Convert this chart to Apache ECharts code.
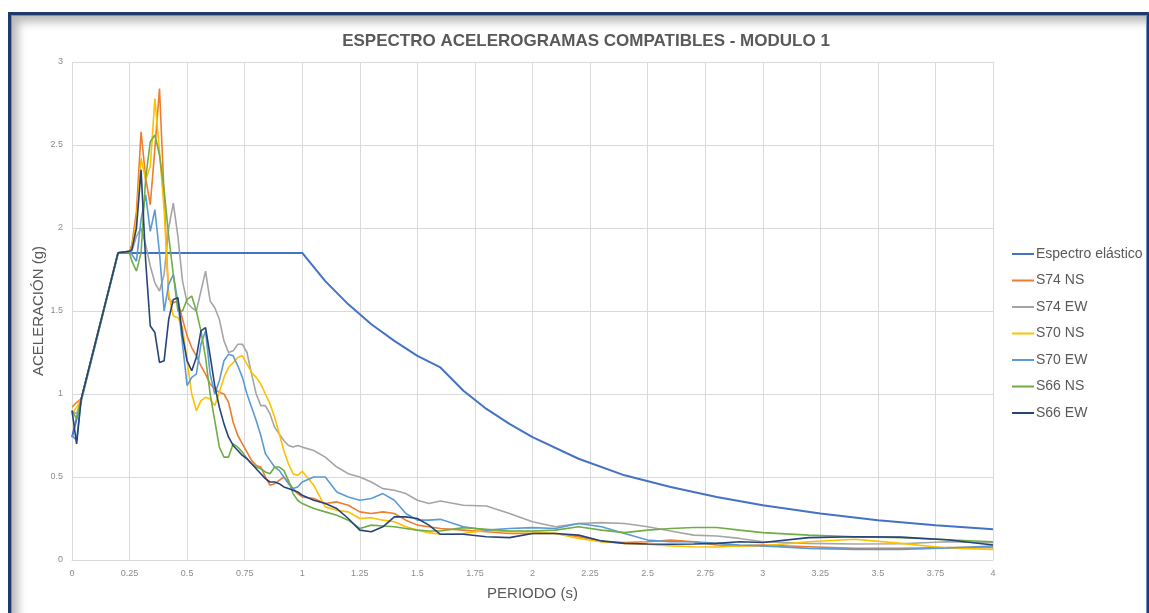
<!DOCTYPE html>
<html>
<head>
<meta charset="utf-8">
<script src="https://cdn.jsdelivr.net/npm/echarts@6/dist/echarts.min.js"></script>
<style>
  html, body { margin: 0; padding: 0; background: #fff; overflow: hidden; }
  #chart { position: absolute; left: 0; top: 0; width: 1149px; height: 613px; }
  #frame {
    position: absolute; left: 8px; top: 12px; width: 1136px; height: 640px;
    border: 3px solid #1f3a6e;
    box-shadow: inset 0 0 0 1px #6f8fc8, inset 7px 7px 10px rgba(0, 0, 0, 0.28);
    pointer-events: none;
  }
</style>
</head>
<body>
<div id="chart"></div>
<div id="frame"></div>
<script>
// periodos comunes de los registros (s)
const periods = [0, 0.02, 0.04, 0.1, 0.2, 0.25, 0.26, 0.28, 0.3, 0.32, 0.34, 0.36, 0.38, 0.4, 0.42, 0.44, 0.46, 0.48,
  0.5, 0.52, 0.54, 0.56, 0.58, 0.6, 0.62, 0.64, 0.66, 0.68, 0.7, 0.72, 0.74, 0.76, 0.78, 0.8, 0.82, 0.84, 0.86, 0.88,
  0.9, 0.92, 0.94, 0.96, 0.98, 1.0, 1.05, 1.1, 1.15, 1.2, 1.25, 1.3, 1.35, 1.4, 1.45, 1.5, 1.55, 1.6, 1.7, 1.8, 1.9,
  2.0, 2.1, 2.2, 2.3, 2.4, 2.5, 2.6, 2.7, 2.8, 2.9, 3.0, 3.2, 3.4, 3.6, 3.8, 4.0]

// espectro elastico
const elasticT = [0, 0.2, 1.0, 1.1, 1.2, 1.3, 1.4, 1.5, 1.6, 1.7, 1.8, 1.9, 2.0, 2.2, 2.4, 2.6, 2.8, 3.0, 3.25, 3.5, 3.75, 4.0]
const elasticSa = [0.74, 1.85, 1.85, 1.68, 1.54, 1.42, 1.32, 1.23, 1.16, 1.02, 0.91, 0.82, 0.74, 0.61, 0.51, 0.44, 0.38, 0.33, 0.28, 0.24, 0.21, 0.185]

const s74ns = [0.92, 0.95, 0.97, 1.3, 1.85, 1.86, 1.9, 2.1, 2.58, 2.3, 2.14, 2.48, 2.84, 2.2, 1.57, 1.55, 1.56, 1.45,
  1.35, 1.28, 1.23, 1.17, 1.12, 1.06, 1.03, 1.01, 1.0, 0.95, 0.83, 0.75, 0.7, 0.65, 0.6, 0.57, 0.56, 0.5, 0.45, 0.46,
  0.48, 0.5, 0.47, 0.43, 0.4, 0.38, 0.37, 0.34, 0.35, 0.33, 0.29, 0.28, 0.29, 0.28, 0.24, 0.21, 0.2, 0.19, 0.18, 0.17, 0.16,
  0.16, 0.16, 0.14, 0.11, 0.105, 0.11, 0.12, 0.11, 0.09, 0.085, 0.09, 0.08, 0.07, 0.07, 0.075, 0.075]

const s74ew = [0.9, 0.88, 0.97, 1.3, 1.85, 1.86, 1.86, 1.95, 2.0, 1.9, 1.77, 1.67, 1.62, 1.72, 2.0, 2.15, 1.95, 1.68,
  1.55, 1.52, 1.5, 1.62, 1.74, 1.56, 1.52, 1.45, 1.32, 1.25, 1.26, 1.3, 1.3, 1.25, 1.12, 1.0, 0.93, 0.93, 0.88, 0.8,
  0.76, 0.72, 0.69, 0.68, 0.69, 0.68, 0.66, 0.62, 0.56, 0.52, 0.5, 0.47, 0.43, 0.42, 0.4, 0.36, 0.34, 0.355, 0.33, 0.325, 0.28,
  0.23, 0.2, 0.22, 0.225, 0.22, 0.2, 0.175, 0.15, 0.145, 0.13, 0.11, 0.1, 0.096, 0.098, 0.11, 0.104]

const s70ns = [0.88, 0.92, 0.97, 1.3, 1.85, 1.86, 1.88, 2.05, 2.42, 2.29, 2.37, 2.78, 2.46, 2.11, 1.6, 1.47, 1.46, 1.4,
  1.2, 1.0, 0.9, 0.96, 0.98, 0.97, 0.93, 1.01, 1.1, 1.16, 1.19, 1.22, 1.23, 1.18, 1.13, 1.1, 1.06, 1.0, 0.94, 0.86,
  0.76, 0.66, 0.58, 0.52, 0.51, 0.535, 0.45, 0.32, 0.3, 0.29, 0.25, 0.255, 0.24, 0.23, 0.2, 0.18, 0.165, 0.155, 0.16, 0.18, 0.17,
  0.17, 0.16, 0.13, 0.11, 0.1, 0.095, 0.085, 0.08, 0.078, 0.084, 0.085, 0.11, 0.125, 0.1, 0.072, 0.064]

const s70ew = [0.75, 0.72, 0.97, 1.3, 1.85, 1.86, 1.84, 1.8, 2.05, 2.2, 1.98, 2.11, 1.85, 1.5, 1.66, 1.72, 1.55, 1.3,
  1.05, 1.1, 1.12, 1.3, 1.38, 1.12, 1.0, 1.08, 1.2, 1.24, 1.23, 1.17, 1.1, 1.0, 0.92, 0.84, 0.75, 0.64, 0.6, 0.56,
  0.54, 0.5, 0.46, 0.43, 0.44, 0.47, 0.5, 0.5, 0.41, 0.38, 0.36, 0.37, 0.4, 0.36, 0.28, 0.24, 0.24, 0.245, 0.2, 0.18, 0.19,
  0.195, 0.19, 0.22, 0.2, 0.16, 0.12, 0.11, 0.11, 0.1, 0.09, 0.085, 0.07, 0.064, 0.064, 0.072, 0.084]

const s66ns = [0.9, 0.85, 0.97, 1.3, 1.85, 1.85, 1.8, 1.74, 1.85, 2.3, 2.52, 2.56, 2.44, 2.23, 1.95, 1.72, 1.5, 1.5,
  1.57, 1.59, 1.5, 1.38, 1.22, 1.0, 0.84, 0.68, 0.62, 0.62, 0.7, 0.68, 0.65, 0.61, 0.58, 0.56, 0.55, 0.53, 0.52, 0.56,
  0.56, 0.54, 0.48, 0.4, 0.36, 0.34, 0.31, 0.29, 0.27, 0.24, 0.19, 0.21, 0.205, 0.2, 0.19, 0.18, 0.175, 0.175, 0.195, 0.185, 0.175,
  0.175, 0.18, 0.2, 0.18, 0.165, 0.18, 0.19, 0.196, 0.196, 0.18, 0.165, 0.15, 0.14, 0.134, 0.122, 0.11]

const s66ew = [0.9, 0.7, 0.97, 1.3, 1.85, 1.86, 1.87, 2.0, 2.35, 1.8, 1.41, 1.37, 1.19, 1.2, 1.45, 1.57, 1.58, 1.35,
  1.2, 1.14, 1.22, 1.38, 1.4, 1.23, 1.05, 0.92, 0.82, 0.74, 0.69, 0.66, 0.63, 0.61, 0.58, 0.55, 0.52, 0.49, 0.47, 0.47,
  0.46, 0.44, 0.43, 0.42, 0.41, 0.39, 0.36, 0.34, 0.31, 0.25, 0.18, 0.17, 0.2, 0.26, 0.26, 0.25, 0.21, 0.155, 0.155, 0.14, 0.135,
  0.16, 0.16, 0.15, 0.115, 0.1, 0.096, 0.095, 0.096, 0.1, 0.11, 0.105, 0.135, 0.14, 0.138, 0.122, 0.09]

const seriesNames = ['Espectro elástico', 'S74 NS', 'S74 EW', 'S70 NS', 'S70 EW', 'S66 NS', 'S66 EW']
const seriesColors = ['#4472C4', '#ED7D31', '#A5A5A5', '#FFC000', '#5B9BD5', '#70AD47', '#264478']

function pairs(xs, ys) {
  return xs.map((x, i) => [x, ys[i]])
}

const records = [s74ns, s74ew, s70ns, s70ew, s66ns, s66ew]
const seriesData = [pairs(elasticT, elasticSa)].concat(records.map(r => pairs(periods, r)))

const chart = echarts.init(document.getElementById('chart'), null, { renderer: 'canvas' })

const option = {
  animation: false,
  textStyle: { fontFamily: 'Liberation Sans, Arial, sans-serif' },
  title: {
    text: 'ESPECTRO ACELEROGRAMAS COMPATIBLES - MODULO 1',
    left: 581,
    textAlign: 'center',
    top: 28,
    textStyle: { fontSize: 17, fontWeight: 'bold', color: '#595959' }
  },
  legend: {
    orient: 'vertical',
    left: 1007,
    top: 241,
    itemWidth: 22,
    itemHeight: 2,
    itemGap: 10.5,
    icon: 'rect',
    data: seriesNames,
    textStyle: { fontSize: 14, color: '#595959', lineHeight: 16, padding: [0, 0, 0, -3] }
  },
  grid: { left: 72, right: 156, top: 62, bottom: 53 },
  xAxis: {
    type: 'value',
    min: 0,
    max: 4,
    interval: 0.25,
    name: 'PERIODO (s)',
    nameLocation: 'middle',
    nameGap: 26,
    nameMoveOverlap: false,
    nameTextStyle: { fontSize: 15, color: '#595959' },
    axisLine: { show: true, lineStyle: { color: '#d9d9d9' } },
    axisTick: { show: false },
    axisLabel: { fontSize: 9, color: '#8c8c8c', margin: 9 },
    splitLine: { show: true, lineStyle: { color: '#d9d9d9' } }
  },
  yAxis: {
    type: 'value',
    min: 0,
    max: 3,
    interval: 0.5,
    name: 'ACELERACIÓN (g)',
    nameLocation: 'middle',
    nameGap: 26,
    nameMoveOverlap: false,
    nameTextStyle: { fontSize: 15, color: '#595959' },
    axisLine: { show: false },
    axisTick: { show: false },
    axisLabel: { fontSize: 9, color: '#8c8c8c', margin: 9 },
    splitLine: { show: true, lineStyle: { color: '#d9d9d9' } }
  },
  series: seriesData.map((d, i) => ({
    name: seriesNames[i],
    type: 'line',
    data: d,
    symbol: 'none',
    smooth: false,
    color: seriesColors[i],
    lineStyle: { width: i === 0 ? 2 : 1.6, color: seriesColors[i] }
  }))
}

chart.setOption(option)
</script>
</body>
</html>
